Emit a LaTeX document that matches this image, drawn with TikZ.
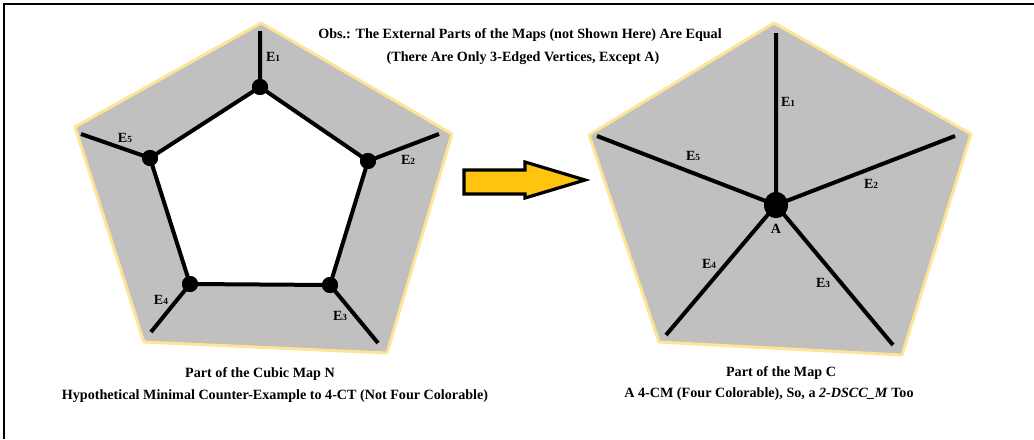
\documentclass[tikz,border=0pt]{standalone}
\usepackage{fontspec}
\usetikzlibrary{shapes.geometric}
\setmainfont{Liberation Serif}
\begin{document}
\begin{tikzpicture}[x=0.75pt,y=-0.75pt,
  region/.style={fill={rgb,255:red,192;green,192;blue,192},draw={rgb,255:red,253;green,228;blue,150},line width=2.2pt,line join=round},
  edge/.style={line width=3pt},
  dot/.style={circle,fill=black,inner sep=0pt,minimum size=12pt},
  bigdot/.style={ellipse,fill=black,inner sep=0pt,minimum width=18pt,minimum height=19.5pt},
  elabel/.style={font=\bfseries\fontsize{10.5}{11}\selectfont,inner sep=0pt},
  caption/.style={font=\bfseries\fontsize{10.6}{12}\selectfont,inner sep=0pt,align=center}]
\useasboundingbox (0,0) rectangle (1034,439);
\fill[white] (0,0) rectangle (1034,439);
\draw[line width=0.9pt] (4,439) -- (4,4) -- (1034,4);

% left pentagon
\draw[region] (261,23) -- (452,134) -- (387,353) -- (144,342) -- (75,127) -- cycle;
\fill[white] (260,87) -- (368,161) -- (330,285) -- (190,284) -- (150,158) -- cycle;
\node[dot] (n1) at (260,87) {};
\node[dot] (n2) at (368,161) {};
\node[dot] (n3) at (330,285) {};
\node[dot] (n4) at (190,284) {};
\node[dot] (n5) at (150,158) {};
\coordinate (o1) at (260,31);
\coordinate (o2) at (439,134);
\coordinate (o3) at (378,343);
\coordinate (o4) at (151,332);
\coordinate (o5) at (81,134);
\draw[edge] (n1.center) -- (n2.center) -- (n3.center) -- (n4.center) -- (n5.center) -- cycle;
\draw[edge] (n1.center) -- (o1) (n2.center) -- (o2) (n3.center) -- (o3) (n4.center) -- (o4) (n5.center) -- (o5);
\node[dot] at (n1) {};
\node[dot] at (n2) {};
\node[dot] at (n3) {};
\node[dot] at (n4) {};
\node[dot] at (n5) {};
\node[elabel] (le1) at (273,57) {E{\scriptsize 1}};
\node[elabel] (le2) at (408,160) {E{\scriptsize 2}};
\node[elabel] (le3) at (340,316) {E{\scriptsize 3}};
\node[elabel] (le4) at (161,300) {E{\scriptsize 4}};
\node[elabel] (le5) at (125,138) {E{\scriptsize 5}};

% arrow
\draw[fill={rgb,255:red,255;green,196;blue,14},line width=2.4pt,line join=miter]
  (464,170) -- (525,170) -- (525,162) -- (585,180) -- (525,198) -- (525,194) -- (464,194) -- cycle;

% right pentagon
\draw[region] (774,23) -- (971,134) -- (902,355) -- (659,342) -- (589,135) -- cycle;
\node[bigdot] (A) at (776,205) {};
\coordinate (p1) at (776,33);
\coordinate (p2) at (955,136);
\coordinate (p3) at (893,345);
\coordinate (p4) at (666,335);
\coordinate (p5) at (597,136);
\draw[edge] (A.center) -- (p1) (A.center) -- (p2) (A.center) -- (p3) (A.center) -- (p4) (A.center) -- (p5);
\node[bigdot] at (A) {};
\node[elabel] (lA) at (776,229) {A};
\node[elabel] (re1) at (788,102) {E{\scriptsize 1}};
\node[elabel] (re2) at (871,184) {E{\scriptsize 2}};
\node[elabel] (re3) at (823,283) {E{\scriptsize 3}};
\node[elabel] (re4) at (709,264) {E{\scriptsize 4}};
\node[elabel] (re5) at (693,156) {E{\scriptsize 5}};

% captions
\node[caption] (obs1) at (520,35) {Obs.: The External Parts of the Maps (not Shown Here) Are Equal};
\node[caption] (obs2) at (523,58) {(There Are Only 3-Edged Vertices, Except A)};
\node[caption] (capl1) at (260,374) {Part of the Cubic Map N};
\node[caption] (capl2) at (275,396) {Hypothetical Minimal Counter-Example to 4-CT (Not Four Colorable)};
\node[caption] (capr1) at (781,373) {Part of the Map C};
\node[caption] (capr2) at (769,394) {A 4-CM (Four Colorable), So, a \textit{2-DSCC\_M} Too};
\end{tikzpicture}
\end{document}
